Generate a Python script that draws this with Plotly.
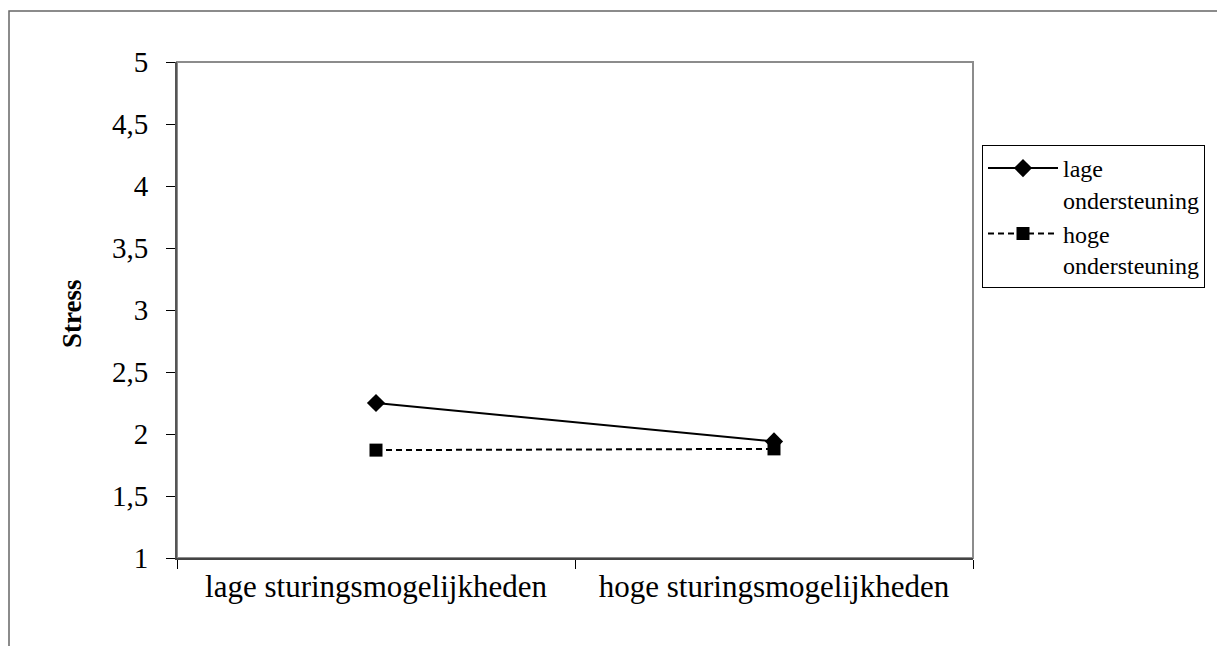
import plotly.graph_objects as go

categories = ["lage sturingsmogelijkheden", "hoge sturingsmogelijkheden"]
lage_ondersteuning = [2.25, 1.94]
hoge_ondersteuning = [1.87, 1.88]
series_names = ["lage<br>ondersteuning", "hoge<br>ondersteuning"]
y_tickvals = [1, 1.5, 2, 2.5, 3, 3.5, 4, 4.5, 5]
y_ticktext = ["1", "1,5", "2", "2,5", "3", "3,5", "4", "4,5", "5"]
y_title = "Stress"

FONT = "Liberation Serif, Times New Roman, serif"

# figure is placed at an 8px page offset (body margin)
W, H = 1217, 638
L, R, T, B = 169, 252, 54, 88
PW, PH = W - L - R, H - T - B


def px_x(x):
    return (x - L) / PW


def px_y(y):
    return (H - B - y) / PH


fig = go.Figure()
fig.add_trace(go.Scatter(
    x=categories, y=lage_ondersteuning, name=series_names[0], mode="lines+markers",
    line=dict(color="black", width=2),
    marker=dict(symbol="diamond", size=14, color="black"),
))
fig.add_trace(go.Scatter(
    x=categories, y=hoge_ondersteuning, name=series_names[1], mode="lines+markers",
    line=dict(color="black", width=2, dash="6px,4px"),
    marker=dict(symbol="square", size=13, color="black"),
))

# plot area frame
fig.add_shape(type="rect", xref="paper", yref="paper", x0=0, x1=1, y0=0, y1=1,
              line=dict(color="#8c8c8c", width=2), layer="below")
# outer chart border
fig.add_shape(type="rect", xref="paper", yref="paper",
              x0=px_x(1), x1=1.6, y0=-0.6, y1=px_y(3),
              line=dict(color="#666666", width=1.5), layer="below")

fig.add_annotation(text="<b>" + y_title + "</b>", xref="paper", yref="paper",
                   x=px_x(64), y=px_y(306), textangle=-90, showarrow=False,
                   xanchor="center", yanchor="middle",
                   font=dict(family=FONT, size=27, color="black"))

fig.update_layout(
    width=W, height=H,
    margin=dict(l=L, r=R, t=T, b=B),
    paper_bgcolor="white", plot_bgcolor="white",
    font=dict(family=FONT, size=28, color="black"),
    showlegend=True,
    legend=dict(
        x=px_x(974), y=px_y(137), xanchor="left", yanchor="top",
        bordercolor="black", borderwidth=1, bgcolor="white",
        font=dict(family=FONT, size=24, color="black"),
        itemwidth=70, valign="top", tracegroupgap=0,
    ),
    xaxis=dict(
        type="category", tickson="boundaries", ticks="outside", ticklen=9,
        tickcolor="black", tickwidth=1,
        showline=True, linecolor="#444444", linewidth=2,
        showgrid=False, zeroline=False,
        tickfont=dict(family=FONT, size=31, color="black"),
        range=[-0.5, 1.5],
    ),
    yaxis=dict(
        range=[1, 5], tickvals=y_tickvals, ticktext=y_ticktext,
        ticks="outside", ticklen=9, tickcolor="black", tickwidth=1,
        showline=True, linecolor="#555555", linewidth=2,
        showgrid=False, zeroline=False,
        tickfont=dict(family=FONT, size=29, color="black"),
        ticklabelstandoff=12,
    ),
)

fig.write_html("out.html")
